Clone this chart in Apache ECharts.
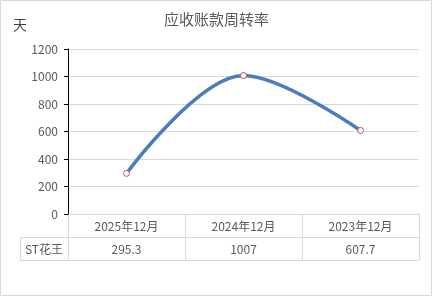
<!DOCTYPE html>
<html><head><meta charset="utf-8">
<script src="https://cdn.jsdelivr.net/npm/echarts@6/dist/echarts.min.js"></script>
<style>html,body{margin:0;padding:0;background:#fff}#c{width:433px;height:297px}</style>
</head><body><div id="c"></div>
<script>
const title = '应收账款周转率';
const unitLabel = '天';
const categories = ['2025年12月', '2024年12月', '2023年12月'];
const seriesName = 'ST花王';
const values = [295.3, 1007, 607.7];
const valueLabels = ['295.3', '1007', '607.7'];
const yTicks = [0, 200, 400, 600, 800, 1000, 1200];

const font = '"Microsoft YaHei","Noto Sans CJK SC",sans-serif';
const chart = echarts.init(document.getElementById('c'), null, {renderer: 'canvas'});
const G = {left: 68, right: 14, top: 49, bottom: 83};
chart.setOption({
  animation: false,
  title: {text: title, left: 'center', top: 7, textStyle: {fontSize: 15, fontWeight: 'normal', color: '#595959', fontFamily: font}},
  grid: G,
  xAxis: {type: 'category', data: categories, boundaryGap: true,
    axisLine: {show: false}, axisTick: {show: false}, axisLabel: {show: false}},
  yAxis: {type: 'value', min: yTicks[0], max: yTicks[yTicks.length - 1], interval: 200,
    name: unitLabel, nameLocation: 'end', nameGap: 17,
    nameTextStyle: {fontSize: 14, color: '#404040', fontFamily: font, align: 'right', padding: [0, 41, 0, 0]},
    axisLine: {show: true, lineStyle: {color: '#000', width: 1}},
    axisTick: {show: true, length: 4, lineStyle: {color: '#000'}},
    axisLabel: {fontSize: 12, color: '#595959', margin: 10, fontFamily: font, formatter: v => String(v)},
    splitLine: {lineStyle: {color: '#d9d9d9'}}},
  series: [{name: seriesName, type: 'line', data: values, smooth: 0.35,
    lineStyle: {color: '#4a7ebb', width: 3.5},
    symbol: 'circle', symbolSize: 6,
    itemStyle: {color: '#fff', borderColor: '#c0504d', borderWidth: 1}}]
});

function drawTable() {
  const W = 433, H = 297;
  const x0 = G.left, x1 = W - G.right, y0 = H - G.bottom;
  const rowH = 23, leftX = 20;
  const els = [];
  const line = (xa, ya, xb, yb) => els.push({type: 'line', shape: {x1: xa, y1: ya, x2: xb, y2: yb}, style: {stroke: '#d9d9d9', lineWidth: 1}, silent: true});
  const n = categories.length, cw = (x1 - x0) / n;
  line(x0, y0 + 0.5, x1, y0 + 0.5);
  line(leftX, y0 + rowH + 0.5, x1, y0 + rowH + 0.5);
  line(leftX, y0 + 2 * rowH + 0.5, x1, y0 + 2 * rowH + 0.5);
  line(leftX + 0.5, y0 + rowH, leftX + 0.5, y0 + 2 * rowH);
  for (let i = 0; i <= n; i++) {
    const x = Math.round(x0 + i * cw) + 0.5;
    line(x, y0, x, y0 + 2 * rowH);
  }
  for (let i = 0; i < n; i++) {
    const cx = chart.convertToPixel({xAxisIndex: 0}, categories[i]);
    els.push({type: 'text', x: cx, y: y0 + rowH / 2 + 1, style: {text: categories[i], align: 'center', verticalAlign: 'middle', fill: '#595959', font: '12px ' + font}});
    els.push({type: 'text', x: cx, y: y0 + rowH * 1.5 + 1, style: {text: valueLabels[i], align: 'center', verticalAlign: 'middle', fill: '#595959', font: '12px ' + font}});
  }
  els.push({type: 'text', x: (leftX + x0) / 2, y: y0 + rowH * 1.5 + 1, style: {text: seriesName, align: 'center', verticalAlign: 'middle', fill: '#595959', font: '12px ' + font}});
  els.push({type: 'rect', shape: {x: 0.5, y: 0.5, width: W - 2, height: H - 2}, style: {fill: 'none', stroke: '#d9d9d9', lineWidth: 1}, silent: true});
  chart.setOption({graphic: els});
}
drawTable();
</script></body></html>
